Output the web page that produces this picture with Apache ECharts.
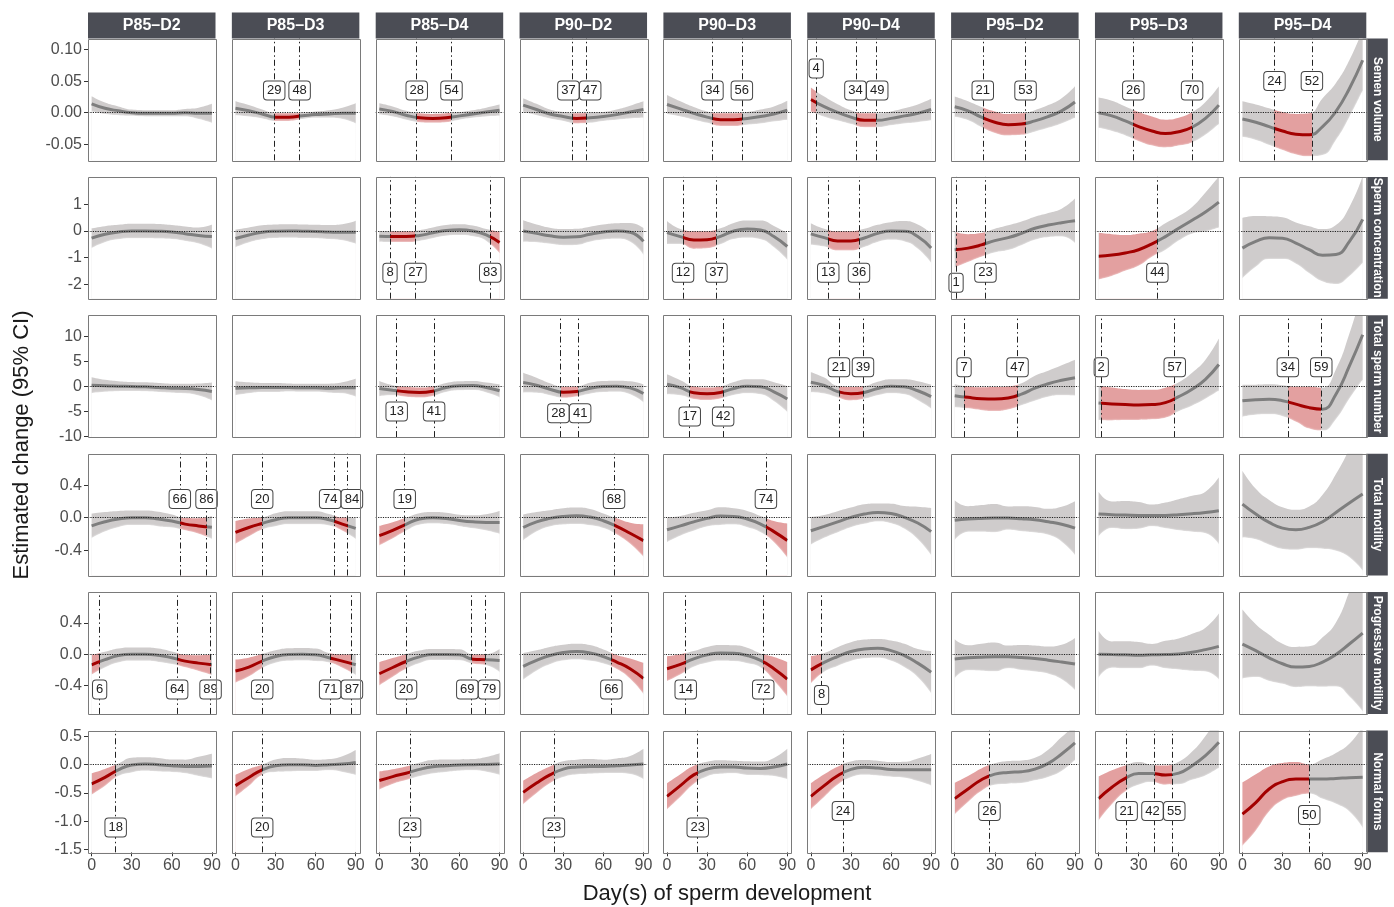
<!DOCTYPE html>
<html><head><meta charset="utf-8">
<script src="https://cdn.jsdelivr.net/npm/echarts@6.0.0/dist/echarts.min.js"></script>
<style>html,body{margin:0;padding:0;background:#fff}#chart{width:1394px;height:907px}</style>
</head><body><div id="chart"></div>
<script>
// ---------------- DATA ----------------
const DAYS = [0,10,20,30,40,50,60,70,80,90];
const PANELS = ['P85–D2','P85–D3','P85–D4','P90–D2','P90–D3','P90–D4','P95–D2','P95–D3','P95–D4'];
const OUTCOMES = ['Semen volume','Sperm concentration','Total sperm number','Total motility','Progressive motility','Normal forms'];
const X_TICKS = [0,30,60,90];
const Y_TICKS = [[-0.05,0,0.05,0.10],[-2,-1,0,1],[-10,-5,0,5,10],[-0.4,0,0.4],[-0.4,0,0.4],[-1.5,-1,-0.5,0,0.5]];
const Y_DEC = [2,0,0,1,1,1];

// Semen volume
const semenMean = [
 [0.014,0.007,0.003,0.000,-0.001,-0.001,-0.001,0.000,-0.001,-0.001],
 [0.007,0.003,-0.002,-0.007,-0.007,-0.005,-0.003,-0.002,-0.001,-0.001],
 [0.006,0.002,-0.004,-0.008,-0.009,-0.008,-0.005,-0.002,0.001,0.004],
 [0.012,0.005,-0.002,-0.006,-0.009,-0.008,-0.006,-0.003,0.001,0.005],
 [0.013,0.006,-0.001,-0.007,-0.011,-0.011,-0.009,-0.006,-0.002,0.004],
 [0.021,0.0095,0.0005,-0.007,-0.012,-0.012,-0.009,-0.005,-0.001,0.005],
 [0.0095,0.003,-0.007,-0.015,-0.019,-0.018,-0.013,-0.006,0.003,0.017],
 [0.000,-0.005,-0.013,-0.022,-0.029,-0.033,-0.030,-0.023,-0.009,0.012],
 [-0.010,-0.015,-0.022,-0.029,-0.034,-0.035,-0.022,0.002,0.038,0.083]
];
const semenCI = [
 [0.012,0.009,0.007,0.005,0.005,0.005,0.005,0.006,0.009,0.015],
 [0.011,0.009,0.007,0.006,0.006,0.005,0.005,0.006,0.009,0.016],
 [0.009,0.008,0.007,0.007,0.007,0.007,0.006,0.006,0.007,0.009],
 [0.011,0.009,0.007,0.007,0.008,0.008,0.007,0.008,0.010,0.013],
 [0.015,0.012,0.010,0.009,0.010,0.010,0.010,0.011,0.012,0.015],
 [0.019,0.016,0.013,0.011,0.011,0.011,0.011,0.012,0.014,0.017],
 [0.016,0.015,0.016,0.017,0.017,0.017,0.017,0.018,0.020,0.025],
 [0.024,0.024,0.023,0.023,0.023,0.022,0.022,0.024,0.026,0.030],
 [0.028,0.028,0.029,0.030,0.032,0.034,0.045,0.045,0.045,0.048]
];
const semenRed = [[],[[29,48]],[[28,54]],[[37,47]],[[34,56]],[[0,4],[34,49]],[[21,53]],[[26,70]],[[24,52]]];

// Sperm concentration
const concMean = [
 [-0.27,-0.12,-0.04,0,0,-0.01,-0.04,-0.10,-0.17,-0.21],
 [-0.28,-0.15,-0.05,-0.01,0,-0.01,-0.02,-0.04,-0.05,-0.05],
 [-0.20,-0.21,-0.21,-0.17,-0.07,0.02,0.05,0,-0.15,-0.43],
 [0,-0.09,-0.18,-0.23,-0.22,-0.12,-0.04,0,-0.05,-0.39],
 [-0.06,-0.21,-0.34,-0.33,-0.20,0,0.07,0.04,-0.21,-0.58],
 [-0.11,-0.25,-0.37,-0.37,-0.26,-0.09,0,-0.01,-0.21,-0.64],
 [-0.70,-0.64,-0.52,-0.36,-0.25,-0.09,0.10,0.22,0.31,0.38],
 [-0.94,-0.90,-0.82,-0.70,-0.48,-0.21,0.10,0.40,0.71,1.08],
 [-0.64,-0.39,-0.25,-0.27,-0.45,-0.70,-0.91,-0.88,-0.40,0.43]
];
const concCI = [
 [0.37,0.30,0.27,0.27,0.27,0.27,0.26,0.27,0.30,0.45],
 [0.33,0.28,0.26,0.25,0.25,0.25,0.25,0.26,0.30,0.43],
 [0.20,0.20,0.20,0.20,0.20,0.20,0.20,0.20,0.22,0.40],
 [0.40,0.33,0.30,0.30,0.30,0.28,0.28,0.29,0.35,0.50],
 [0.43,0.28,0.33,0.32,0.30,0.30,0.32,0.35,0.40,0.50],
 [0.40,0.33,0.36,0.36,0.34,0.32,0.33,0.38,0.45,0.55],
 [0.67,0.52,0.44,0.44,0.46,0.44,0.43,0.45,0.52,0.83],
 [0.87,0.78,0.67,0.60,0.48,0.50,0.46,0.50,0.73,0.95],
 [1.13,0.95,0.80,0.78,0.77,0.88,0.98,1.10,1.29,1.62]
];
const concRed = [[],[],[[8,27],[83,90]],[],[[12,37]],[[13,36]],[[1,23]],[[0,44]],[]];

// Total sperm number
const totalMean = [
 [0.2,0.07,0,-0.07,-0.13,-0.26,-0.4,-0.46,-0.66,-1.05],
 [-0.4,-0.33,-0.26,-0.26,-0.26,-0.33,-0.33,-0.4,-0.33,-0.33],
 [-0.46,-0.8,-1.12,-1.25,-1.0,-0.26,0.07,0.13,-0.26,-0.92],
 [0.72,0.2,-0.6,-1.2,-1.05,-0.4,-0.07,0,-0.33,-1.45],
 [0.4,-0.3,-1.3,-1.5,-1.25,-0.46,0,-0.13,-1.12,-2.57],
 [0.8,0.13,-1.1,-1.5,-1.25,-0.46,0,-0.13,-0.92,-2.1],
 [-1.9,-2.24,-2.5,-2.57,-2.35,-1.6,-0.4,0.5,1.18,1.71],
 [-3.36,-3.55,-3.68,-3.75,-3.68,-3.3,-2.1,-0.6,1.38,4.34],
 [-2.9,-2.7,-2.63,-2.9,-3.6,-4.3,-4.6,-1.6,4.0,10.3]
];
const totalCI = [
 [1.6,1.2,1.0,0.9,0.9,0.9,0.9,0.95,1.2,1.8],
 [1.4,1.1,0.9,0.9,0.8,0.8,0.8,0.9,1.1,1.8],
 [1.5,1.0,1.0,1.0,0.95,0.9,0.9,0.9,1.0,1.3],
 [1.97,1.5,1.2,1.1,1.0,1.1,1.1,1.1,1.3,1.8],
 [2.0,1.5,1.25,1.25,1.2,1.3,1.4,1.5,1.9,2.6],
 [2.0,1.6,1.15,1.35,1.28,1.35,1.4,1.5,1.9,2.4],
 [2.3,2.2,2.3,2.4,2.3,2.2,2.5,2.6,3.0,3.6],
 [3.4,3.3,3.1,3.0,2.95,3.0,2.9,3.3,3.9,5.2],
 [3.2,3.0,3.0,3.1,3.5,4.2,4.3,5.0,6.5,9.0]
];
const totalRed = [[],[],[[13,41]],[[28,41]],[[17,42]],[[21,39]],[[7,47]],[[2,57]],[[34,59]]];

// Total motility
const motMean = [
 [-0.10,-0.05,-0.016,0,0,-0.016,-0.04,-0.078,-0.10,-0.118],
 [-0.18,-0.12,-0.07,-0.024,0,0,0,-0.024,-0.078,-0.13],
 [-0.22,-0.155,-0.08,-0.016,0,-0.008,-0.033,-0.05,-0.057,-0.057],
 [-0.12,-0.05,-0.008,0.016,0.024,0.008,-0.037,-0.106,-0.19,-0.28],
 [-0.147,-0.10,-0.05,-0.008,0.02,0.016,-0.016,-0.078,-0.17,-0.28],
 [-0.16,-0.106,-0.05,0.004,0.045,0.065,0.053,0.004,-0.065,-0.17],
 [-0.03,-0.016,-0.008,-0.004,-0.004,-0.012,-0.024,-0.05,-0.08,-0.127],
 [0.045,0.037,0.033,0.029,0.029,0.029,0.037,0.049,0.065,0.086],
 [0.167,0.045,-0.057,-0.127,-0.147,-0.118,-0.049,0.065,0.18,0.29]
];
const motCI = [
 [0.15,0.12,0.10,0.09,0.09,0.09,0.08,0.075,0.095,0.14],
 [0.14,0.11,0.075,0.08,0.08,0.08,0.08,0.07,0.08,0.13],
 [0.12,0.10,0.08,0.07,0.07,0.07,0.07,0.08,0.10,0.14],
 [0.16,0.12,0.10,0.10,0.10,0.10,0.09,0.10,0.13,0.20],
 [0.15,0.12,0.11,0.10,0.11,0.10,0.10,0.10,0.13,0.21],
 [0.17,0.14,0.13,0.12,0.12,0.11,0.12,0.14,0.20,0.29],
 [0.245,0.157,0.163,0.173,0.143,0.153,0.157,0.16,0.214,0.33],
 [0.275,0.163,0.173,0.163,0.133,0.157,0.19,0.22,0.255,0.41],
 [0.41,0.31,0.275,0.255,0.245,0.255,0.33,0.47,0.665,0.94]
];
const motRed = [[[66,86]],[[0,20],[74,84]],[[0,19]],[[68,90]],[[74,90]],[],[],[],[]];

// Progressive motility
const progMean = [
 [-0.135,-0.07,-0.017,0,0,-0.013,-0.046,-0.088,-0.114,-0.135],
 [-0.215,-0.164,-0.088,-0.03,-0.004,0,-0.008,-0.046,-0.088,-0.135],
 [-0.25,-0.17,-0.093,-0.034,-0.004,-0.004,-0.008,-0.063,-0.07,-0.08],
 [-0.156,-0.08,-0.017,0.021,0.034,0.017,-0.03,-0.10,-0.185,-0.31],
 [-0.185,-0.13,-0.06,-0.008,0.017,0.013,-0.017,-0.08,-0.185,-0.32],
 [-0.20,-0.105,-0.03,0.034,0.067,0.076,0.046,-0.017,-0.114,-0.23],
 [-0.06,-0.046,-0.038,-0.034,-0.034,-0.042,-0.055,-0.076,-0.10,-0.126],
 [0,-0.004,-0.008,-0.013,-0.008,-0.004,0.004,0.025,0.059,0.10],
 [0.13,0.046,-0.046,-0.122,-0.164,-0.156,-0.10,-0.004,0.13,0.27]
];
const progCI = [
 [0.125,0.10,0.09,0.085,0.085,0.085,0.08,0.08,0.10,0.13],
 [0.147,0.12,0.09,0.08,0.08,0.08,0.08,0.06,0.085,0.13],
 [0.147,0.12,0.093,0.08,0.07,0.07,0.07,0.06,0.07,0.147],
 [0.17,0.13,0.11,0.10,0.10,0.10,0.09,0.09,0.13,0.20],
 [0.16,0.13,0.10,0.10,0.10,0.10,0.10,0.09,0.15,0.22],
 [0.175,0.12,0.12,0.12,0.12,0.12,0.13,0.15,0.18,0.27],
 [0.25,0.16,0.173,0.185,0.145,0.16,0.166,0.173,0.22,0.333],
 [0.30,0.168,0.173,0.168,0.139,0.175,0.198,0.236,0.28,0.42],
 [0.44,0.337,0.295,0.257,0.257,0.257,0.316,0.41,0.67,1.0]
];
const progRed = [[[0,6],[64,89]],[[0,20],[71,87]],[[0,20],[69,79]],[[66,90]],[[0,14],[72,90]],[[0,8]],[],[],[]];

// Normal forms
const normMean = [
 [-0.34,-0.225,-0.09,-0.006,0.012,0,-0.018,-0.03,-0.03,-0.024],
 [-0.37,-0.225,-0.09,-0.018,0,0,-0.012,0,0.012,0.04],
 [-0.28,-0.21,-0.15,-0.083,-0.035,-0.018,-0.006,0,0.006,0.012],
 [-0.49,-0.325,-0.18,-0.077,-0.041,-0.03,-0.03,-0.018,-0.006,0.012],
 [-0.56,-0.37,-0.18,-0.077,-0.041,-0.041,-0.06,-0.065,-0.041,0.012],
 [-0.56,-0.37,-0.195,-0.083,-0.047,-0.06,-0.083,-0.089,-0.089,-0.089],
 [-0.60,-0.43,-0.266,-0.166,-0.136,-0.124,-0.077,0.024,0.19,0.385],
 [-0.60,-0.40,-0.243,-0.154,-0.154,-0.183,-0.148,-0.018,0.16,0.396],
 [-0.876,-0.67,-0.43,-0.30,-0.254,-0.254,-0.254,-0.243,-0.23,-0.22]
];
const normCI = [
 [0.19,0.15,0.11,0.13,0.12,0.12,0.11,0.12,0.17,0.22],
 [0.19,0.15,0.09,0.11,0.12,0.11,0.10,0.10,0.14,0.22],
 [0.16,0.13,0.12,0.12,0.12,0.11,0.10,0.10,0.13,0.19],
 [0.21,0.18,0.15,0.14,0.13,0.13,0.12,0.13,0.16,0.27],
 [0.23,0.20,0.16,0.13,0.12,0.11,0.12,0.12,0.16,0.27],
 [0.23,0.20,0.16,0.14,0.13,0.13,0.13,0.14,0.20,0.28],
 [0.28,0.23,0.20,0.19,0.20,0.20,0.20,0.24,0.30,0.30],
 [0.39,0.30,0.23,0.20,0.15,0.17,0.20,0.25,0.35,0.45],
 [0.56,0.50,0.40,0.33,0.30,0.26,0.35,0.45,0.60,0.90]
];
const normRed = [[[0,18]],[[0,20]],[[0,23]],[[0,23]],[[0,23]],[[0,24]],[[0,26]],[[0,21],[42,55]],[[0,50]]];

// ---------------- LAYOUT / STYLE ----------------
const MEANS = [semenMean, concMean, totalMean, motMean, progMean, normMean];
const CIS = [semenCI, concCI, totalCI, motCI, progCI, normCI];
const REDS = [semenRed, concRed, totalRed, motRed, progRed, normRed];
const Y_RANGE = [[-0.0753,0.1174],[-2.53,2.02],[-10.2,14.2],[-0.708,0.785],[-0.763,0.794],[-1.551,0.606]];
const LABEL_Y = [
 [0.035,0.035,0.035,0.035,0.035,[0.07,0.035,0.035],0.035,0.035,0.05],
 [-1.56,-1.56,-1.56,-1.56,-1.56,-1.56,[-1.93,-1.56],-1.56,-1.56],
 [-5.07,-5.07,-5.07,-5.4,-6.05,3.8,3.8,3.8,3.8],
 [0.23,0.23,0.23,0.23,0.23,0.23,0.23,0.23,0.23],
 [-0.45,-0.45,-0.45,-0.45,-0.45,-0.52,-0.45,-0.45,-0.45],
 [-1.11,-1.11,-1.11,-1.11,-1.11,-0.82,-0.82,-0.82,-0.89]
];
const FONT = "'Liberation Sans', Arial, Helvetica, sans-serif";
const L0 = 88, CSTEP = 143.85, PW = 127.5, T0 = 38.5, RSTEP = 138.4, PH = 121.8;
const XMIN = -2.7, XMAX = 92.7;
const BAND_GRAY = '#cfcccc', LINE_GRAY = '#7e7e7e', BAND_RED = '#e3a0a0', LINE_RED = '#a30000';
const STRIP = '#4b4d55', BORDER = '#7a7a7a';

const grids = [], xAxes = [], yAxes = [], series = [], visualMaps = [], graphics = [];
const pxPerDay = PW / (XMAX - XMIN);

for (let r = 0; r < 6; r++) {
  for (let c = 0; c < 9; c++) {
    const g = grids.length;
    const gx = L0 + c*CSTEP, gy = T0 + r*RSTEP;
    grids.push({left: gx, top: gy, width: PW, height: PH, show: true,
      borderWidth: 0, backgroundColor: '#fff'});
    graphics.push({type: 'rect', z: 100, silent: true,
      shape: {x: Math.round(gx) + 0.5, y: Math.round(gy) + 0.5, width: Math.round(PW), height: Math.round(PH)},
      style: {fill: 'none', stroke: BORDER, lineWidth: 1}});
    xAxes.push({gridIndex: g, type: 'value', min: XMIN, max: XMAX,
      axisLine: {show: false, onZero: false}, splitLine: {show: false},
      axisTick: {show: r === 5, customValues: X_TICKS, length: 4, lineStyle: {color: '#333'}},
      axisLabel: {show: r === 5, customValues: X_TICKS, fontSize: 16, color: '#4d4d4d', margin: 5, fontFamily: FONT}});
    const dec = Y_DEC[r];
    yAxes.push({gridIndex: g, type: 'value', min: Y_RANGE[r][0], max: Y_RANGE[r][1],
      axisLine: {show: false, onZero: false}, splitLine: {show: false},
      axisTick: {show: c === 0, customValues: Y_TICKS[r], length: 4, lineStyle: {color: '#333'}},
      axisLabel: {show: c === 0, customValues: Y_TICKS[r], fontSize: 16, color: '#4d4d4d', margin: 6, fontFamily: FONT,
        formatter: v => Number(v).toFixed(dec)}});

    const mean = MEANS[r][c], ci = CIS[r][c], red = REDS[r][c];
    const iUp = series.length;
    // upper CI bound, filled down to the axis start
    series.push({type: 'line', xAxisIndex: g, yAxisIndex: g,
      data: DAYS.map((d, i) => [d, mean[i] + ci[i]]), smooth: true, symbol: 'none', color: BAND_GRAY,
      lineStyle: {width: 0, opacity: 0}, areaStyle: {opacity: 1, origin: 'start'}, silent: true, z: 1});
    // lower CI bound, white mask filled down to the axis start
    series.push({type: 'line', xAxisIndex: g, yAxisIndex: g,
      data: DAYS.map((d, i) => [d, mean[i] - ci[i]]), smooth: true, symbol: 'none', color: '#ffffff',
      lineStyle: {width: 0, opacity: 0},
      areaStyle: {opacity: 1, origin: 'start', color: '#ffffff', shadowBlur: 2, shadowColor: '#ffffff'},
      silent: true, z: 2});

    // vertical lines from red-range boundaries
    const lines = [];
    red.forEach(([a, b]) => { [a, b].forEach(v => { if (v > 0 && v < 90 && lines.indexOf(v) < 0) lines.push(v); }); });
    lines.sort((a, b) => a - b);
    const ly = LABEL_Y[r][c];
    const labW = lines.map(d => String(d).length * 7.4 + 6);
    const offs = lines.map(() => 0);
    for (let k = 0; k + 1 < lines.length; k++) {
      const y1 = Array.isArray(ly) ? ly[k] : ly, y2 = Array.isArray(ly) ? ly[k+1] : ly;
      if (y1 !== y2) continue;
      const gap = (lines[k+1] - lines[k]) * pxPerDay + offs[k+1] - offs[k];
      const need = (labW[k] + labW[k+1]) / 2 + 1;
      if (gap < need) { const d = (need - gap) / 2; offs[k] -= d; offs[k+1] += d; }
    }
    const markLineData = [{yAxis: 0, lineStyle: {type: 'dotted', color: '#222', width: 1.2}}];
    lines.forEach(d => markLineData.push({xAxis: d, lineStyle: {type: [6, 3, 1.5, 3], color: '#222', width: 1}}));
    const markPointData = lines.map((d, k) => ({
      coord: [d, Array.isArray(ly) ? ly[k] : ly], value: d, label: {offset: [offs[k], 0]}}));

    series.push({type: 'line', xAxisIndex: g, yAxisIndex: g,
      data: DAYS.map((d, i) => [d, mean[i]]), smooth: true, symbol: 'none', color: LINE_GRAY,
      lineStyle: {width: 3}, silent: true, z: 3,
      markLine: {silent: true, symbol: ['none', 'none'], label: {show: false}, animation: false, z: 5, data: markLineData},
      markPoint: {silent: true, symbol: 'rect', symbolSize: 1, itemStyle: {color: 'rgba(0,0,0,0)'}, animation: false, z: 6,
        label: {show: true, position: 'inside', formatter: p => String(p.value), fontSize: 13, lineHeight: 13,
          fontFamily: FONT, color: '#222', backgroundColor: '#fff', borderColor: '#444', borderWidth: 1,
          borderRadius: 3, padding: [3, 3, 2, 3]},
        data: markPointData}
    });
    if (red.length) {
      visualMaps.push({type: 'piecewise', show: false, seriesIndex: iUp, dimension: 0,
        pieces: red.map(([a, b]) => ({gte: a, lte: b, color: BAND_RED})), outOfRange: {color: BAND_GRAY}});
      visualMaps.push({type: 'piecewise', show: false, seriesIndex: iUp + 2, dimension: 0,
        pieces: red.map(([a, b]) => ({gte: a, lte: b, color: LINE_RED})), outOfRange: {color: LINE_GRAY}});
    }
  }
}

// facet strips
PANELS.forEach((name, c) => {
  const x = L0 + c*CSTEP;
  graphics.push({type: 'rect', shape: {x: x, y: 12.5, width: PW, height: 26}, style: {fill: STRIP}, silent: true});
  graphics.push({type: 'text', x: x + PW/2, y: 25.5, silent: true,
    style: {text: name, fill: '#fff', font: 'bold 16px ' + FONT, align: 'center', verticalAlign: 'middle',
      textAlign: 'center', textVerticalAlign: 'middle'}});
});
OUTCOMES.forEach((name, r) => {
  const x = L0 + 8*CSTEP + PW, y = T0 + r*RSTEP;
  graphics.push({type: 'rect', shape: {x: x, y: y, width: 21.5, height: PH}, style: {fill: STRIP}, silent: true});
  graphics.push({type: 'text', x: x + 11, y: y + PH/2, rotation: -Math.PI/2, silent: true,
    style: {text: name, fill: '#fff', font: 'bold 12px ' + FONT, align: 'center', verticalAlign: 'middle',
      textAlign: 'center', textVerticalAlign: 'middle'}});
});
graphics.push({type: 'text', x: 22, y: 445, rotation: Math.PI/2, silent: true,
  style: {text: 'Estimated change (95% CI)', fill: '#1a1a1a', font: '22px ' + FONT, align: 'center',
    verticalAlign: 'middle', textAlign: 'center', textVerticalAlign: 'middle'}});
graphics.push({type: 'text', x: 727, y: 894, silent: true,
  style: {text: 'Day(s) of sperm development', fill: '#1a1a1a', font: '22px ' + FONT, align: 'center',
    verticalAlign: 'middle', textAlign: 'center', textVerticalAlign: 'middle'}});

const chart = echarts.init(document.getElementById('chart'), null, {renderer: 'canvas', width: 1394, height: 907});
chart.setOption({
  animation: false,
  backgroundColor: '#fff',
  grid: grids, xAxis: xAxes, yAxis: yAxes, series: series, visualMap: visualMaps,
  graphic: {elements: graphics}
});
</script>
</body></html>
